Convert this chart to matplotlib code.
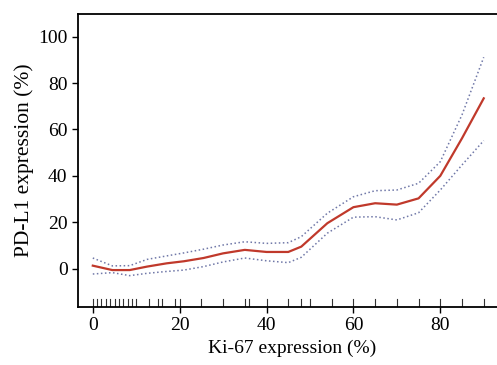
import numpy as np
import matplotlib
matplotlib.use("Agg")
import matplotlib.pyplot as plt

plt.rcParams['font.family'] = ['Liberation Serif', 'DejaVu Serif']

# Ki-67 grid where the fitted curve was read
ki67 = [0, 4.5, 8.5, 12.5, 17, 21, 25.5, 30, 35, 40, 45, 48, 54, 60, 65, 70, 75, 80, 85, 90]
# fitted PD-L1 and its confidence band
pdl1_fit = [1.3, -0.6, -0.6, 0.9, 2.3, 3.2, 4.6, 6.6, 8.1, 7.2, 7.2, 9.5, 19.6, 26.5, 28.2,
            27.6, 30.3, 40.0, 56.2, 73.4]
pdl1_upper = [4.6, 1.2, 1.3, 4.0, 5.5, 6.8, 8.4, 10.2, 11.6, 10.9, 11.2, 13.8, 23.9, 31.0,
              33.6, 33.9, 36.8, 46.1, 66.3, 91.1]
pdl1_lower = [-2.3, -1.7, -3.0, -2.0, -1.2, -0.6, 0.9, 2.9, 4.6, 3.4, 2.6, 4.9, 15.3, 22.2,
              22.4, 21.0, 24.1, 33.9, 44.7, 55.2]

# observed Ki-67 values (rug)
rug = [0, 1, 2, 3, 4, 5, 6, 7, 8, 9, 10, 13, 15, 16, 19, 20, 25, 30, 35, 36, 40, 45, 48, 50,
       55, 60, 65, 70, 75, 80, 85, 90]

xticks = [0, 20, 40, 60, 80]
yticks = [0, 20, 40, 60, 80, 100]

fig = plt.figure(figsize=(4.97, 3.65), dpi=100)
ax = fig.add_axes([0.157, 0.159, 0.86, 0.803])

ax.plot(ki67, pdl1_upper, linestyle=':', color='#7078a8', lw=1.1)
ax.plot(ki67, pdl1_lower, linestyle=':', color='#7078a8', lw=1.1)
ax.plot(ki67, pdl1_fit, color='#c0392b', lw=1.6)

# rug marks along the bottom
for r in rug:
    ax.plot([r, r], [0, 0.028], color='#333333', lw=0.8, transform=ax.get_xaxis_transform())

ax.set_xlim(-3.4, 95.0)
ax.set_ylim(-16.5, 109.8)
ax.set_xticks(xticks)
ax.set_yticks(yticks)
ax.tick_params(labelsize=14, direction='out', length=4, width=1)
ax.spines['right'].set_visible(False)
for s in ['left', 'bottom', 'top']:
    ax.spines[s].set_linewidth(1.3)

ax.set_xlabel('Ki-67 expression (%)', fontsize=14, labelpad=4)
ax.set_ylabel('PD-L1 expression (%)', fontsize=15.5, labelpad=3)

fig.savefig('out.png', dpi=100)
